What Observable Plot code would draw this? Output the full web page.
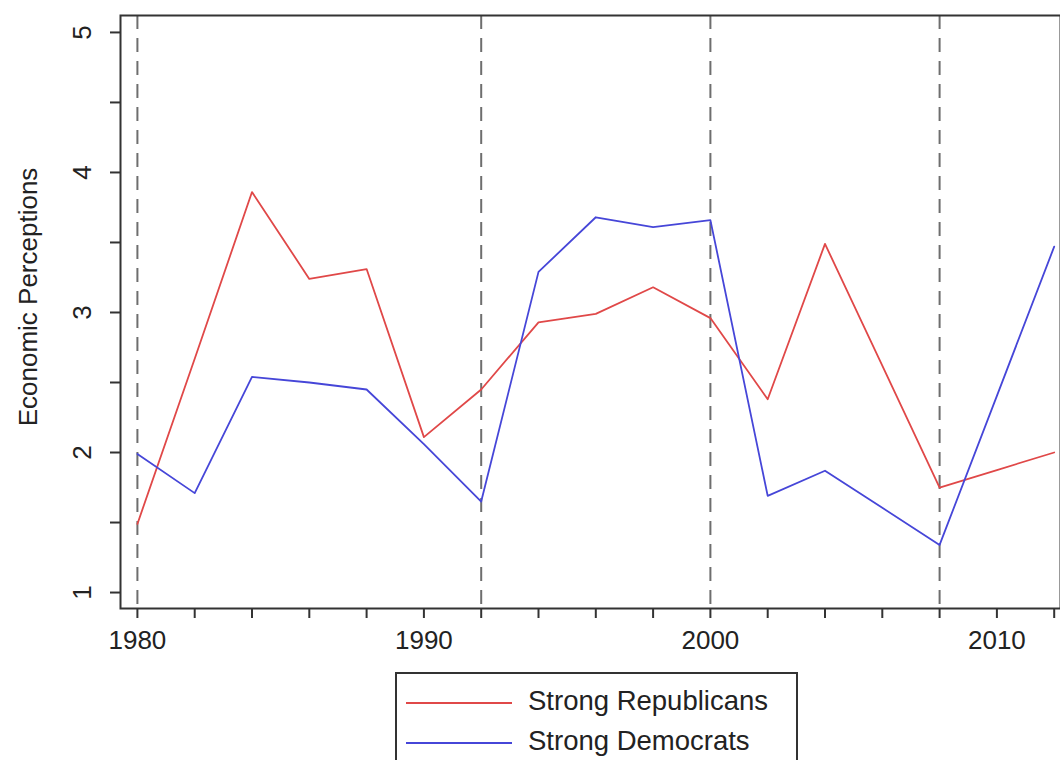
<!DOCTYPE html>
<html>
<head>
<meta charset="utf-8">
<script src="https://cdn.jsdelivr.net/npm/d3@7"></script>
<script src="https://cdn.jsdelivr.net/npm/@observablehq/plot@0.6"></script>
<style>
  html, body { margin: 0; padding: 0; background: #fff; overflow: hidden; }
  #chart svg { display: block; }
  .legend {
    position: absolute; left: 395px; top: 672px; width: 403px; height: 120px;
    border: 2px solid #333; box-sizing: border-box;
    font-family: "Liberation Sans", Arial, sans-serif; font-size: 27.5px; color: #222;
  }
  .row { position: absolute; left: 0; height: 40px; width: 100%; }
  .sw { position: absolute; left: 9px; width: 106px; top: 50%; height: 0; border-top: 2px solid; }
  .lbl { position: absolute; left: 131px; top: 50%; transform: translateY(-52%); white-space: nowrap; }
</style>
</head>
<body>
<div id="chart"></div>
<div class="legend" id="legend"></div>
<script>
const years = [1980, 1982, 1984, 1986, 1988, 1990, 1992, 1994, 1996, 1998, 2000, 2002, 2004, 2006, 2008, 2010, 2012];
const republicans = [1.49, 2.67, 3.86, 3.24, 3.31, 2.11, 2.45, 2.93, 2.99, 3.18, 2.96, 2.38, 3.49, 2.62, 1.75, 1.875, 2.0];
const democrats = [1.99, 1.71, 2.54, 2.50, 2.45, 2.06, 1.65, 3.29, 3.68, 3.61, 3.66, 1.69, 1.87, 1.605, 1.34, 2.405, 3.47];
const seriesNames = ["Strong Republicans", "Strong Democrats"];
const seriesColors = ["#e04848", "#4646d8"];
const breakYears = [1980, 1992, 2000, 2008];
const xTickYears = years;
const xLabelYears = [1980, 1990, 2000, 2010];
const yTicks = [1, 1.5, 2, 2.5, 3, 3.5, 4, 4.5, 5];
const yLabels = [1, 2, 3, 4, 5];
const yTitle = "Economic Perceptions";

const repRows = years.map((year, i) => ({year, value: republicans[i]}));
const demRows = years.map((year, i) => ({year, value: democrats[i]}));

const chart = Plot.plot({
  width: 1060,
  height: 665,
  marginLeft: 120,
  marginRight: 0,
  marginTop: 15,
  marginBottom: 57,
  x: {domain: [1979.41, 2012.22], label: null},
  y: {domain: [0.886, 5.121], label: null},
  style: {fontFamily: "'Liberation Sans', Arial, sans-serif", fontSize: "26px", color: "#222", background: "#fff"},
  marks: [
    Plot.ruleX(breakYears, {x: d => d, stroke: "#6e6e6e", strokeWidth: 2, strokeDasharray: "14,9"}),
    Plot.line(repRows, {x: "year", y: "value", stroke: seriesColors[0], strokeWidth: 1.8}),
    Plot.line(demRows, {x: "year", y: "value", stroke: seriesColors[1], strokeWidth: 1.8}),
    Plot.frame({stroke: "#333", strokeWidth: 2}),
    Plot.axisX({ticks: xTickYears, tickSize: 10, tickFormat: () => "", stroke: "#333", strokeWidth: 2}),
    Plot.axisX({ticks: xLabelYears, tickSize: 0, tickPadding: 22, tickFormat: d => String(d), fill: "#222"}),
    Plot.axisY({ticks: yTicks, tickSize: 10, tickFormat: () => "", stroke: "#333", strokeWidth: 2}),
    Plot.text(yLabels, {y: d => d, text: d => String(d), frameAnchor: "left", textAnchor: "middle", lineAnchor: "middle", dx: -38, rotate: -90, fill: "#222", fontSize: 26}),
    Plot.text([yTitle], {text: d => d, frameAnchor: "left", textAnchor: "middle", lineAnchor: "middle", dx: -92, dy: -15, rotate: -90, fill: "#222", fontSize: 26})
  ]
});
document.getElementById("chart").appendChild(chart);

const legend = document.getElementById("legend");
seriesNames.forEach((name, i) => {
  const row = document.createElement("div");
  row.className = "row";
  row.style.top = (8 + i * 40) + "px";
  const sw = document.createElement("div");
  sw.className = "sw";
  sw.style.borderTopColor = seriesColors[i];
  const lbl = document.createElement("div");
  lbl.className = "lbl";
  lbl.textContent = name;
  row.appendChild(sw);
  row.appendChild(lbl);
  legend.appendChild(row);
});
</script>
</body>
</html>
